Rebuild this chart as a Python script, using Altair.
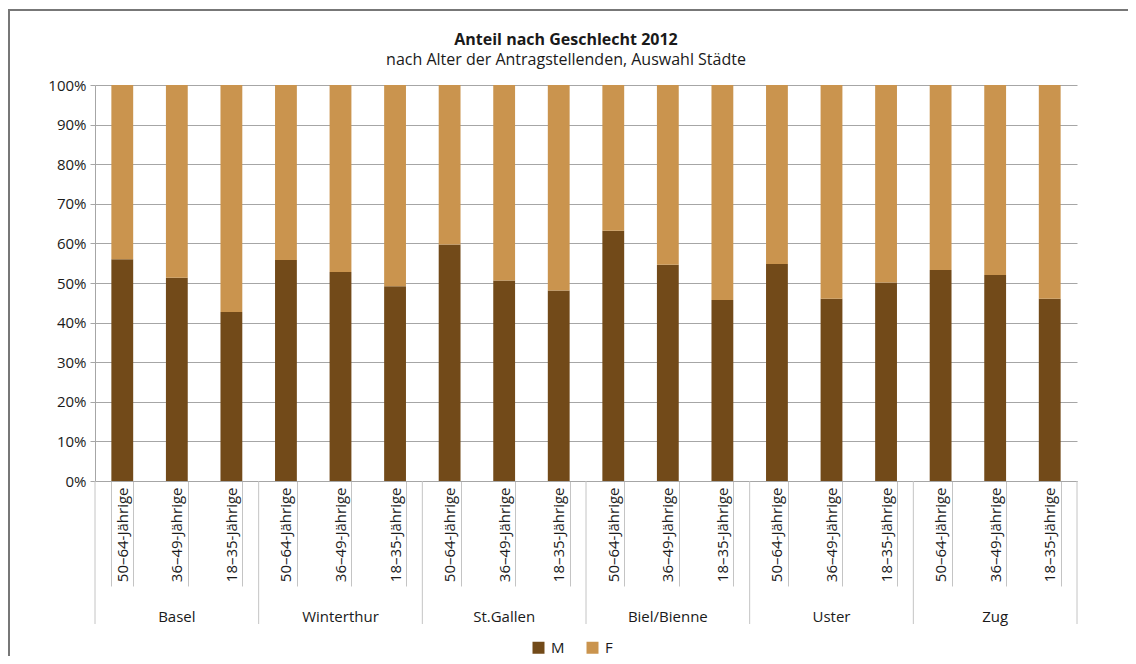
import altair as alt
import pandas as pd

cities = ["Basel", "Winterthur", "St.Gallen", "Biel/Bienne", "Uster", "Zug"]
ages = ["50–64-Jährige", "36–49-Jährige", "18–35-Jährige"]
male = [56.0, 51.3, 42.7, 55.8, 52.8, 49.2, 59.7, 50.6, 48.1,
        63.2, 54.6, 45.7, 54.8, 46.0, 50.1, 53.3, 52.0, 46.0]
female = [44.0, 48.7, 57.3, 44.2, 47.2, 50.8, 40.3, 49.4, 51.9,
          36.8, 45.4, 54.3, 45.2, 54.0, 49.9, 46.7, 48.0, 54.0]
sexes = ["M", "F"]
colors = ["#724A19", "#CA944E"]
y_ticks = [0, 0.1, 0.2, 0.3, 0.4, 0.5, 0.6, 0.7, 0.8, 0.9, 1.0]
title_text = "Anteil nach Geschlecht 2012"
subtitle_text = "nach Alter der Antragstellenden, Auswahl Städte"

FONT = "Open Sans"
W, H = 982, 396
step = W / 18
off = step * 0.3

keys = [f"{c}|{a}" for c in cities for a in ages]
rows = []
for i, c in enumerate(cities):
    for j, a in enumerate(ages):
        k = i * 3 + j
        rows.append(dict(key=f"{c}|{a}", city=c, sex="M", share=male[k] / 100, ord=0))
        rows.append(dict(key=f"{c}|{a}", city=c, sex="F", share=female[k] / 100, ord=1))
df = pd.DataFrame(rows)

first_keys = pd.DataFrame({"key": [f"{c}|{ages[0]}" for c in cities]})
last_key = pd.DataFrame({"key": [f"{cities[-1]}|{ages[-1]}"]})
mid_keys = pd.DataFrame({"key": [f"{c}|{ages[1]}" for c in cities], "city": cities})

xscale = alt.Scale(domain=keys, paddingInner=0.6, paddingOuter=0.3)
grey = "#A6A6A6"

bars = alt.Chart(df).mark_bar().encode(
    x=alt.X("key:N", scale=xscale, sort=keys,
            axis=alt.Axis(title=None, labelExpr="split(datum.value, '|')[1]",
                          labelAngle=-90, labelFontSize=15, labelColor="#1a1a1a",
                          labelPadding=-99, tickBand="extent", tickSize=105,
                          tickColor="#C4C4C4", domainColor=grey, grid=False,
                          labelFont=FONT)),
    y=alt.Y("share:Q", stack="zero", scale=alt.Scale(domain=[0, 1], nice=False),
            axis=alt.Axis(title=None, format="%", values=y_ticks, grid=True,
                          gridColor=grey, tickSize=5, tickColor=grey,
                          domainColor=grey, labelFontSize=15, labelPadding=4,
                          labelColor="#1a1a1a", labelFont=FONT)),
    color=alt.Color("sex:N", scale=alt.Scale(domain=sexes, range=colors),
                    legend=alt.Legend(title=None, orient="none", direction="horizontal",
                                      legendX=436, legendY=555, symbolType="square",
                                      symbolSize=144, symbolStrokeWidth=0,
                                      labelFontSize=15, labelFont=FONT,
                                      labelColor="#1a1a1a", columnPadding=20,
                                      labelOffset=5)),
    order=alt.Order("ord:Q"),
)

sep_left = alt.Chart(first_keys).mark_rule(color="#C4C4C4", xOffset=-off).encode(
    x=alt.X("key:N", bandPosition=0, sort=keys),
    y=alt.value(H), y2=alt.value(H + 143),
)
sep_right = alt.Chart(last_key).mark_rule(color="#C4C4C4", xOffset=off).encode(
    x=alt.X("key:N", bandPosition=1, sort=keys),
    y=alt.value(H), y2=alt.value(H + 143),
)
city_labels = alt.Chart(mid_keys).mark_text(fontSize=15, font=FONT, color="#1a1a1a",
                                            baseline="middle").encode(
    x=alt.X("key:N", sort=keys),
    y=alt.value(H + 136),
    text="city:N",
)

frame_df = pd.DataFrame({"f": [0]})
frame_left = alt.Chart(frame_df).mark_rule(color="#777777", strokeWidth=2).encode(
    x=alt.value(-86), y=alt.value(-75), y2=alt.value(700))
frame_top = alt.Chart(frame_df).mark_rule(color="#777777", strokeWidth=2).encode(
    x=alt.value(-87), x2=alt.value(W + 60), y=alt.value(-75))

title_mark = alt.Chart(pd.DataFrame({"t": [title_text]})).mark_text(
    fontSize=16, fontWeight="bold", font=FONT, color="#1a1a1a", baseline="middle"
).encode(x=alt.value(471), y=alt.value(-45), text="t:N")
subtitle_mark = alt.Chart(pd.DataFrame({"t": [subtitle_text]})).mark_text(
    fontSize=16, font=FONT, color="#1a1a1a", baseline="middle"
).encode(x=alt.value(471), y=alt.value(-25), text="t:N")

chart = alt.layer(bars, sep_left, sep_right, city_labels, frame_left, frame_top,
                  title_mark, subtitle_mark).properties(
    width=W, height=H,
    autosize=alt.AutoSizeParams(type="none"),
    padding={"left": 87, "top": 77, "right": 51, "bottom": 175},
).configure_view(stroke=None)

chart.save("out.html", embed_options={"renderer": "svg", "actions": False})
